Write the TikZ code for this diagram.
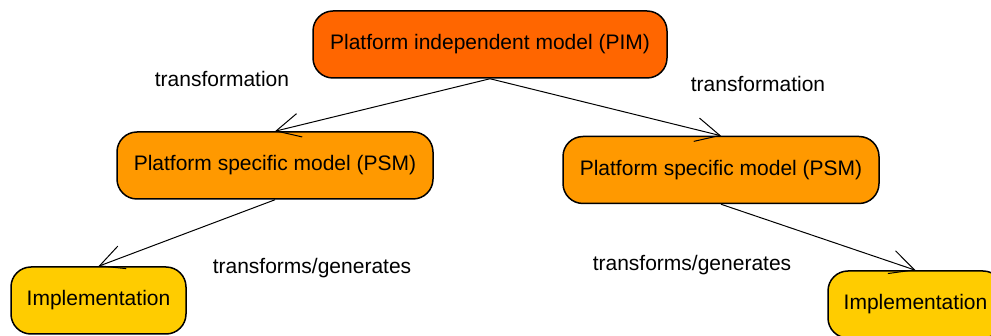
\documentclass[tikz,border=0pt]{standalone}
\usepackage{fontspec}
\setmainfont{Liberation Sans}
\usetikzlibrary{arrows.meta}
\begin{document}
\begin{tikzpicture}[x=1pt,y=-1pt,
  modelbox/.style={draw=black, line width=1.5pt, rounded corners=20pt,
    inner sep=0pt, font=\fontsize{21pt}{25pt}\selectfont},
  pimbox/.style={modelbox, fill=orange1, minimum width=354pt, minimum height=67pt},
  psmbox/.style={modelbox, fill=orange2, minimum width=316pt, minimum height=67pt},
  implbox/.style={modelbox, fill=yellow1, minimum width=175pt, minimum height=67pt},
  flow/.style={line width=1pt, -{Straight Barb[length=24pt, width=24pt, line width=1pt]}},
  note/.style={font=\fontsize{21pt}{25pt}\selectfont, inner sep=0pt}]
\definecolor{orange1}{HTML}{FF6600}
\definecolor{orange2}{HTML}{FF9900}
\definecolor{yellow1}{HTML}{FFCC00}
\useasboundingbox (0,0) rectangle (991,336);

\node[pimbox]  (pim)   at (490,44.5)  {Platform independent model (PIM)};
\node[psmbox]  (lpsm)  at (275,165.5) {Platform specific model (PSM)};
\node[psmbox]  (rpsm)  at (721,170)   {Platform specific model (PSM)};
\node[implbox] (limpl) at (98.5,300.5) {Implementation};
\node[implbox] (rimpl) at (915.5,304.5) {Implementation};

\draw[flow] (pim.south) -- (lpsm.north);
\draw[flow] (pim.south) -- (rpsm.north);
\draw[flow] (lpsm.south) -- (limpl.north);
\draw[flow] (rpsm.south) -- (rimpl.north);

\node[note] (t1) at (222,79)  {transformation};
\node[note] (t2) at (758,84)  {transformation};
\node[note] (g1) at (312,268) {transforms/generates};
\node[note] (g2) at (692,265) {transforms/generates};
\end{tikzpicture}
\end{document}
